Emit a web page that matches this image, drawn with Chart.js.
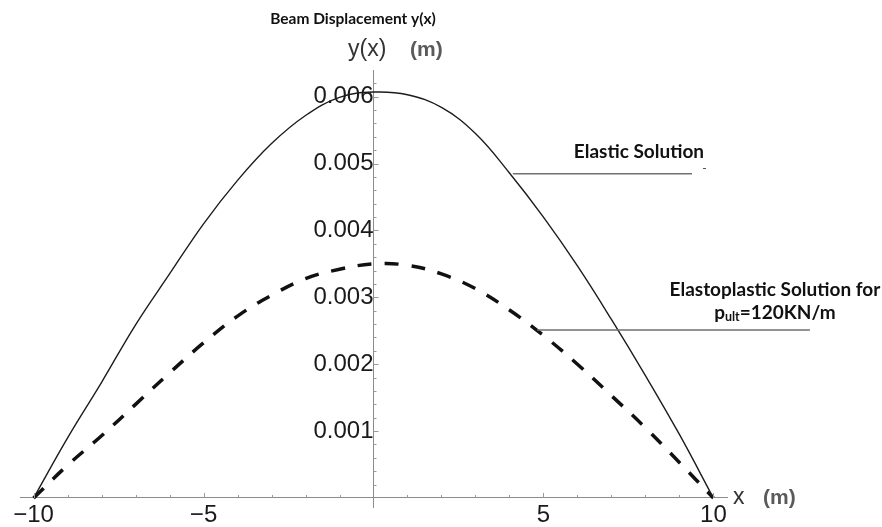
<!DOCTYPE html>
<html>
<head>
<meta charset="utf-8">
<script src="https://cdn.jsdelivr.net/npm/chart.js@4.4.1/dist/chart.umd.min.js"></script>
<style>
  html, body { margin: 0; padding: 0; background: #fff; }
</style>
</head>
<body>
<canvas id="beamChart" width="882" height="527"></canvas>
<script>
// positions along the beam (m)
const xPos = [-10, -9, -8, -7, -6, -5, -4, -3, -2, -1, 0, 1, 2, 3, 4, 5, 6, 7, 8, 9, 10];
// elastic deflection y(x) (m)
const elastic = [0, 0.00090, 0.00173, 0.00259, 0.00335, 0.00410, 0.00475, 0.00530, 0.00572, 0.00599,
  0.00607, 0.00603, 0.00584, 0.00545, 0.00486, 0.00420, 0.00347, 0.00267, 0.00183, 0.00095, 0];
// elastoplastic deflection for p_ult = 120 kN/m (m)
const elastoplastic = [0, 0.00049, 0.00093, 0.00140, 0.00187, 0.00232, 0.00272, 0.00303, 0.00328, 0.00342,
  0.00350, 0.00348, 0.00335, 0.00313, 0.00281, 0.00243, 0.00200, 0.00153, 0.00105, 0.00053, 0];
const xTicks = [-10, -5, 5, 10];
const yTicks = [0.001, 0.002, 0.003, 0.004, 0.005, 0.006];

const labelFont = 'Lato, "Open Sans", sans-serif';
const axisFont = '"Liberation Sans", Arial, sans-serif';

// leader labels, placed in data units
const notes = {
  elastic: { tx: 7.81, ty: 0.005174, x1: 4.1, x2: 9.37, y: 0.00485 },
  plastic: { tx: 11.81, ty1: 0.00311, ty2: 0.002767, x1: 4.81, x2: 12.84, y: 0.002512 }
};

const decor = {
  id: 'decor',
  afterDraw(chart) {
    const { ctx, chartArea } = chart;
    const xs = chart.scales.x, ys = chart.scales.y;
    const x0 = xs.getPixelForValue(0), y0 = ys.getPixelForValue(0);
    ctx.save();

    // inward tick marks, minor and major
    ctx.strokeStyle = '#9a9a9a';
    ctx.lineWidth = 1;
    ctx.beginPath();
    for (let v = -10; v <= 10; v++) {
      if (v === 0) continue;
      const px = Math.round(xs.getPixelForValue(v)) + 0.5;
      const len = v % 5 === 0 ? 5 : 3;
      ctx.moveTo(px, y0);
      ctx.lineTo(px, y0 - len);
    }
    for (let k = 1; k <= 31; k++) {
      const py = Math.round(ys.getPixelForValue(k * 0.0002)) + 0.5;
      const len = k % 5 === 0 ? 5 : 3;
      ctx.moveTo(x0, py);
      ctx.lineTo(x0 + len, py);
    }
    ctx.stroke();

    // axis titles
    ctx.textBaseline = 'middle';
    ctx.textAlign = 'left';
    ctx.font = '23px ' + axisFont;
    ctx.fillStyle = '#333';
    ctx.fillText('y(x)', x0 - 25.5, chartArea.top - 20);
    ctx.fillText('x', chartArea.right + 6, y0);
    ctx.font = 'bold 21px ' + axisFont;
    ctx.fillStyle = '#5a5a5a';
    ctx.fillText('(m)', x0 + 36.5, chartArea.top - 20);
    ctx.fillText('(m)', chartArea.right + 36, y0);

    // chart title
    ctx.font = 'bold 15.5px ' + labelFont;
    ctx.fillStyle = '#111';
    ctx.textAlign = 'center';
    ctx.fillText('Beam Displacement y(x)', x0 - 20.5, 19);

    // leader lines
    ctx.strokeStyle = '#707070';
    ctx.lineWidth = 1.5;
    ctx.beginPath();
    const e = notes.elastic, p = notes.plastic;
    ctx.moveTo(xs.getPixelForValue(e.x1), ys.getPixelForValue(e.y));
    ctx.lineTo(xs.getPixelForValue(e.x2), ys.getPixelForValue(e.y));
    ctx.moveTo(xs.getPixelForValue(p.x1), ys.getPixelForValue(p.y));
    ctx.lineTo(xs.getPixelForValue(p.x2), ys.getPixelForValue(p.y));
    ctx.stroke();
    // small stray mark at the end of the upper leader
    ctx.fillStyle = '#555';
    ctx.fillRect(Math.round(xs.getPixelForValue(9.7)), Math.round(ys.getPixelForValue(0.00493)), 3, 1);

    // leader captions
    ctx.font = 'bold 19px ' + labelFont;
    ctx.fillStyle = '#111';
    ctx.textAlign = 'center';
    ctx.fillText('Elastic Solution', xs.getPixelForValue(e.tx), ys.getPixelForValue(e.ty));
    ctx.fillText('Elastoplastic Solution for', xs.getPixelForValue(p.tx), ys.getPixelForValue(p.ty1));

    // p_ult=120KN/m with subscript
    const cx = xs.getPixelForValue(p.tx), cy = ys.getPixelForValue(p.ty2);
    const big = 'bold 19px ' + labelFont, small = 'bold 12.5px ' + labelFont;
    ctx.font = big;
    const wP = ctx.measureText('p').width, wRest = ctx.measureText('=120KN/m').width;
    ctx.font = small;
    const wSub = ctx.measureText('ult').width;
    let lx = cx - (wP + wSub + wRest) / 2;
    ctx.textAlign = 'left';
    ctx.font = big;
    ctx.fillText('p', lx, cy);
    lx += wP;
    ctx.font = small;
    ctx.fillText('ult', lx, cy + 4);
    lx += wSub;
    ctx.font = big;
    ctx.fillText('=120KN/m', lx, cy);

    ctx.restore();
  }
};

new Chart(document.getElementById('beamChart'), {
  type: 'line',
  data: {
    datasets: [
      {
        label: 'Elastic Solution',
        data: xPos.map((x, i) => ({ x: x, y: elastic[i] })),
        borderColor: '#1c1c1c',
        borderWidth: 1.4,
        pointRadius: 0,
        tension: 0.4,
        fill: false
      },
      {
        label: 'Elastoplastic Solution',
        data: xPos.map((x, i) => ({ x: x, y: elastoplastic[i] })),
        borderColor: '#111',
        borderWidth: 3.5,
        borderDash: [14, 13],
        pointRadius: 0,
        tension: 0.4,
        fill: false
      }
    ]
  },
  options: {
    responsive: false,
    animation: false,
    devicePixelRatio: 1,
    layout: { padding: { left: 20, right: 155, top: 70, bottom: 20 } },
    plugins: {
      legend: { display: false },
      tooltip: { enabled: false },
      title: { display: false }
    },
    scales: {
      x: {
        type: 'linear',
        position: { y: 0 },
        min: -10.4,
        max: 10.4,
        grid: { display: false, drawTicks: false },
        border: { display: true, color: '#8c8c8c', width: 1 },
        afterBuildTicks: s => { s.ticks = xTicks.map(v => ({ value: v })); },
        afterFit: s => { s.height = 0; },
        ticks: {
          font: { family: axisFont, size: 24 },
          color: '#1a1a1a',
          padding: 3,
          maxRotation: 0,
          autoSkip: false,
          callback: v => (v < 0 ? '\u2212' + Math.abs(v) : String(v))
        }
      },
      y: {
        type: 'linear',
        position: { x: 0 },
        min: -0.000135,
        max: 0.0064,
        grid: { display: false, drawTicks: false },
        border: { display: true, color: '#8c8c8c', width: 1 },
        afterBuildTicks: s => { s.ticks = yTicks.map(v => ({ value: v })); },
        afterFit: s => { s.width = 0; },
        ticks: {
          font: { family: axisFont, size: 24 },
          color: '#1a1a1a',
          padding: 3,
          autoSkip: false,
          callback: v => v.toFixed(3)
        }
      }
    }
  },
  plugins: [decor]
});
</script>
</body>
</html>
